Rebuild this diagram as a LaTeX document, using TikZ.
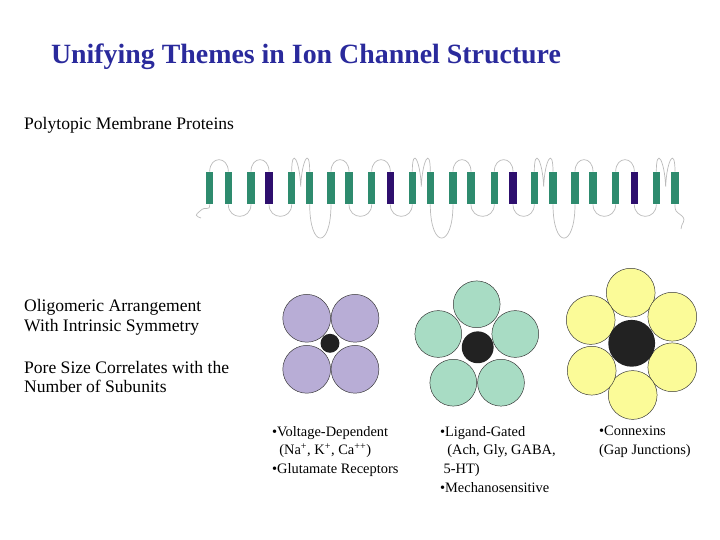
\documentclass[tikz,border=0pt]{standalone}
\usepackage{fontspec}
\setmainfont{Liberation Serif}
\usetikzlibrary{calc}
\definecolor{titleblue}{HTML}{2A2A9C}
\definecolor{helixgreen}{HTML}{2E8B6E}
\definecolor{helixdark}{HTML}{2E0F6E}
\definecolor{loopgrey}{HTML}{BBBBBB}
\definecolor{subpurple}{HTML}{B8ADD6}
\definecolor{subgreen}{HTML}{A8DCC4}
\definecolor{subyellow}{HTML}{FBFB98}
\definecolor{porecol}{HTML}{222222}
\tikzset{
  helix/.style={draw=none, fill=helixgreen, minimum width=6pt, minimum height=27.5pt, inner sep=0pt},
  sfour/.style={helix, fill=helixdark},
  loopline/.style={draw=loopgrey, line width=0.6pt},
  subunit/.style={circle, draw=black!80, line width=0.4pt, inner sep=0pt},
  pore/.style={circle, fill=porecol, inner sep=0pt},
  heading/.style={anchor=west, font=\fontsize{15}{17}\selectfont, align=left},
  family/.style={anchor=north west, font=\fontsize{12.3}{16}\selectfont, align=left}
}
\begin{document}
\begin{tikzpicture}[x=0.03cm, y=-0.03cm]
  \useasboundingbox (0,0) rectangle (720,540);
  \node[text=titleblue, font=\bfseries\fontsize{23.8}{26}\selectfont] (title) at (306,57) {Unifying Themes in Ion Channel Structure};
  \node[heading] (poly) at (20,125) {Polytopic Membrane Proteins};
  \node[heading] (oligo) at (20,317) {Oligomeric Arrangement\\With Intrinsic Symmetry};
  \node[heading] (pore) at (20,377) {Pore Size Correlates with the\\Number of Subunits};

  % transmembrane helices, four repeats of six
  \foreach \x [count=\i] in {209.7,228.3,251,269,291.7,309.7,331,349,371.7,390.3,412.3,430.3,
      453,471,494.3,513,534.3,553,575,593,615.7,634.3,656.3,675} {
    \pgfmathtruncatemacro{\m}{mod(\i,6)}
    \ifnum\m=4
      \node[sfour] (h\i) at (\x,188) {};
    \else
      \node[helix] (h\i) at (\x,188) {};
    \fi
  }
  \foreach \g in {0,6,12,18} {
    \pgfmathtruncatemacro{\a}{\g+1}\pgfmathtruncatemacro{\b}{\g+2}
    \pgfmathtruncatemacro{\c}{\g+3}\pgfmathtruncatemacro{\d}{\g+4}
    \pgfmathtruncatemacro{\e}{\g+5}\pgfmathtruncatemacro{\f}{\g+6}
    \draw[loopline] (h\a.north) .. controls +(0,-16) and +(0,-16) .. (h\b.north);
    \draw[loopline] (h\c.north) .. controls +(0,-16) and +(0,-16) .. (h\d.north);
    \draw[loopline] (h\b.south) .. controls +(0,16) and +(0,16) .. (h\c.south);
    \draw[loopline] (h\d.south) .. controls +(0,16) and +(0,16) .. (h\e.south);
    % the S5-S6 pore loop
    \draw[loopline] (h\e.north) .. controls +(0,-26) and +(-1,-26) .. ($(h\e.north)!0.5!(h\f.north)+(0,15)$)
      .. controls +(1,-26) and +(0,-26) .. (h\f.north);
  }
  \foreach \i/\j in {6/7,12/13,18/19}
    \draw[loopline] (h\i.south) .. controls +(0,45) and +(0,45) .. (h\j.south);
  \coordinate (ntail) at (201,218);
  \coordinate (ctail) at (681,229);
  \draw[loopline] (h1.south) .. controls +(0,8) and +(6,-6) .. (200,211) .. controls +(-5,4) and +(-6,-2) .. (ntail);
  \draw[loopline] (h24.south) .. controls +(0,8) and +(-6,-5) .. (682,216) .. controls +(5,5) and +(0,-6) .. (ctail);

  % tetramer
  \foreach \p [count=\k] in {(306.7,318.3),(355,318.3),(306.7,369.3),(355,369.3)}
    \node[subunit, fill=subpurple, minimum size=48pt*0.85] (v\k) at \p {};
  \node[pore, minimum size=19pt*0.85] (vpore) at (330,343.3) {};
  % pentamer
  \foreach \p [count=\k] in {(476.7,304.3),(515.3,334),(501,382.7),(453.3,382.7),(438.3,334)}
    \node[subunit, fill=subgreen, minimum size=47pt*0.85] (l\k) at \p {};
  \node[pore, minimum size=32pt*0.85] (lpore) at (477.7,347.3) {};
  % hexamer
  \foreach \p [count=\k] in {(630.7,292.7),(672.3,316.7),(672.3,367.3),(632.7,395),(591.7,370.7),(590.7,320)}
    \node[subunit, fill=subyellow, minimum size=49pt*0.85] (c\k) at \p {};
  \node[pore, minimum size=47pt*0.85] (cpore) at (631.7,343.3) {};

  \node[family] (vlab) at (268,422) {\textbullet Voltage-Dependent\\\ \ (Na\textsuperscript{+}, K\textsuperscript{+}, Ca\textsuperscript{++})\\\textbullet Glutamate Receptors};
  \node[family] (llab) at (436,422) {\textbullet Ligand-Gated\\\ \ (Ach, Gly, GABA,\\\ 5-HT)\\\textbullet Mechanosensitive};
  \node[family] (clab) at (595,422) {\textbullet Connexins\\(Gap Junctions)};
\end{tikzpicture}
\end{document}
